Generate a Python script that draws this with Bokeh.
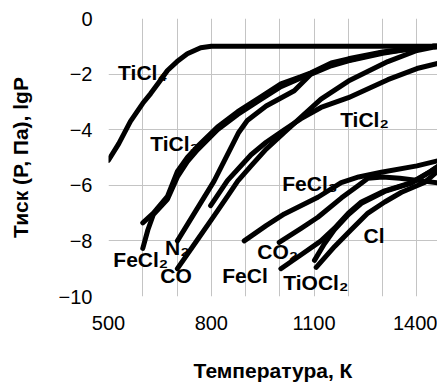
from bokeh.plotting import figure
from bokeh.models import Range1d, FixedTicker
from bokeh.core.properties import value
from bokeh.embed import file_html
from bokeh.resources import INLINE

# ---- data (temperature K, lgP) ----
ticl4_T = [500, 530, 564, 600, 623, 650, 672, 700, 730, 769, 800, 1500]
ticl4_P = [-5.1, -4.5, -3.7, -3.05, -2.7, -2.25, -1.87, -1.55, -1.27, -1.05, -1.0, -1.0]

ticl3_T = [600, 631, 672, 701, 730, 760, 818, 877, 940, 1003, 1060, 1091, 1150, 1200, 1300, 1400, 1450, 1500]
ticl3_P = [-7.35, -7.0, -6.4, -5.5, -5.0, -4.6, -3.9, -3.35, -2.85, -2.35, -2.1, -1.95, -1.6, -1.45, -1.2, -1.05, -1.0, -1.0]

fecl2_T = [600, 615, 631, 672, 701, 730, 760, 818, 877, 940, 1003, 1060, 1091, 1150, 1200, 1300, 1400, 1450, 1500]
fecl2_P = [-8.27, -7.6, -7.05, -6.5, -5.7, -5.15, -4.72, -4.0, -3.45, -2.95, -2.45, -2.15, -1.97, -1.65, -1.5, -1.22, -1.06, -1.0, -1.0]

n2_T = [701, 808, 880, 905, 960, 1042, 1091, 1150, 1200, 1300, 1400, 1450, 1500]
n2_P = [-8.0, -5.85, -4.1, -3.67, -3.15, -2.6, -2.0, -1.7, -1.52, -1.25, -1.05, -1.0, -1.0]

co_T = [701, 760, 808, 847, 877, 916, 960, 1013, 1062, 1120, 1200, 1315, 1400, 1450, 1500]
co_P = [-9.0, -7.95, -7.1, -6.4, -5.85, -5.3, -4.7, -4.1, -3.55, -2.9, -2.25, -1.55, -1.15, -1.03, -1.0]

ticl2_T = [798, 847, 916, 960, 1013, 1062, 1120, 1200, 1315, 1400, 1500]
ticl2_P = [-6.73, -5.83, -4.9, -4.45, -4.0, -3.6, -3.2, -2.85, -2.2, -1.8, -1.5]

fecl_T = [896, 960, 1013, 1111, 1179, 1230, 1296, 1400, 1500]
fecl_P = [-8.0, -7.45, -7.03, -6.43, -5.9, -5.7, -5.53, -5.3, -5.0]

fecl3_T = [998, 1062, 1111, 1180, 1230, 1257, 1300, 1350, 1420, 1500]
fecl3_P = [-8.05, -7.55, -7.15, -6.45, -6.0, -5.75, -5.7, -5.75, -5.85, -5.97]

co2_T = [1003, 1062, 1120, 1159, 1200, 1238, 1306, 1384, 1440, 1500]
co2_P = [-9.0, -8.5, -8.0, -7.55, -7.0, -6.6, -6.2, -5.9, -5.5, -5.0]

tiocl2_T = [1101, 1130, 1159, 1200, 1238, 1306, 1384, 1440, 1500]
tiocl2_P = [-8.7, -8.1, -7.6, -7.05, -6.65, -6.22, -5.92, -5.5, -5.0]

cl_T = [1106, 1160, 1208, 1257, 1306, 1355, 1422, 1460, 1500]
cl_P = [-8.95, -8.2, -7.6, -7.0, -6.6, -6.25, -5.9, -5.5, -5.1]

label_text = ["TiCl₄", "TiCl₃", "TiCl₂", "FeCl₃", "FeCl₂", "N₂", "CO", "FeCl", "CO₂", "TiOCl₂", "Cl"]
label_T = [528, 622, 1176, 1007, 514, 665, 651, 832, 934, 1010, 1244]
label_P = [-1.95, -4.48, -3.65, -5.95, -8.68, -8.25, -9.26, -9.26, -8.39, -9.51, -7.82]

x_ticks = [500, 800, 1100, 1400]
y_ticks = [0, -2, -4, -6, -8, -10]

series = [(ticl4_T, ticl4_P), (ticl3_T, ticl3_P), (fecl2_T, fecl2_P), (n2_T, n2_P),
          (co_T, co_P), (ticl2_T, ticl2_P), (fecl_T, fecl_P), (fecl3_T, fecl3_P),
          (co2_T, co2_P), (tiocl2_T, tiocl2_P), (cl_T, cl_P)]

p = figure(width=437, height=384, output_backend="svg", toolbar_location=None,
           x_range=Range1d(500, 1460), y_range=Range1d(-10, 0),
           min_border_left=108, min_border_right=0, min_border_top=18, min_border_bottom=87)
p.outline_line_color = None
p.background_fill_color = "white"
p.border_fill_color = "white"

for T, P in series:
    p.line(T, P, line_color="black", line_width=5, line_join="round", line_cap="round")

p.text(x=label_T, y=label_P, text=label_text, text_align="left", text_baseline="middle",
       text_font=value("Liberation Sans"), text_font_style="bold", text_font_size="21px",
       text_color="black")

p.xaxis.ticker = FixedTicker(ticks=x_ticks)
p.yaxis.ticker = FixedTicker(ticks=y_ticks)
p.xgrid.ticker = FixedTicker(ticks=list(range(500, 1500, 100)))
p.ygrid.ticker = FixedTicker(ticks=y_ticks)
p.xgrid.grid_line_color = "#c4c4c4"
p.ygrid.grid_line_color = "#c4c4c4"
p.xgrid.grid_line_width = 1
p.ygrid.grid_line_width = 1

for ax in (p.xaxis[0], p.yaxis[0]):
    ax.axis_line_color = None
    ax.major_tick_line_color = None
    ax.minor_tick_line_color = None
    ax.major_tick_out = 0
    ax.major_tick_in = 0
    ax.major_label_text_font = "Liberation Sans"
    ax.major_label_text_font_size = "20px"
    ax.major_label_text_color = "black"
    ax.axis_label_text_font = "Liberation Sans"
    ax.axis_label_text_font_style = "bold"
    ax.axis_label_text_font_size = "21px"
    ax.axis_label_text_color = "black"

p.xaxis.axis_label = "Температура, К"
p.yaxis.axis_label = "Тиск (Р, Па), lgP"
p.xaxis.major_label_standoff = 19
p.xaxis.axis_label_standoff = 26
p.yaxis.major_label_standoff = 16
p.yaxis.axis_label_standoff = 24

open("out.html", "w").write(file_html(p, INLINE))
